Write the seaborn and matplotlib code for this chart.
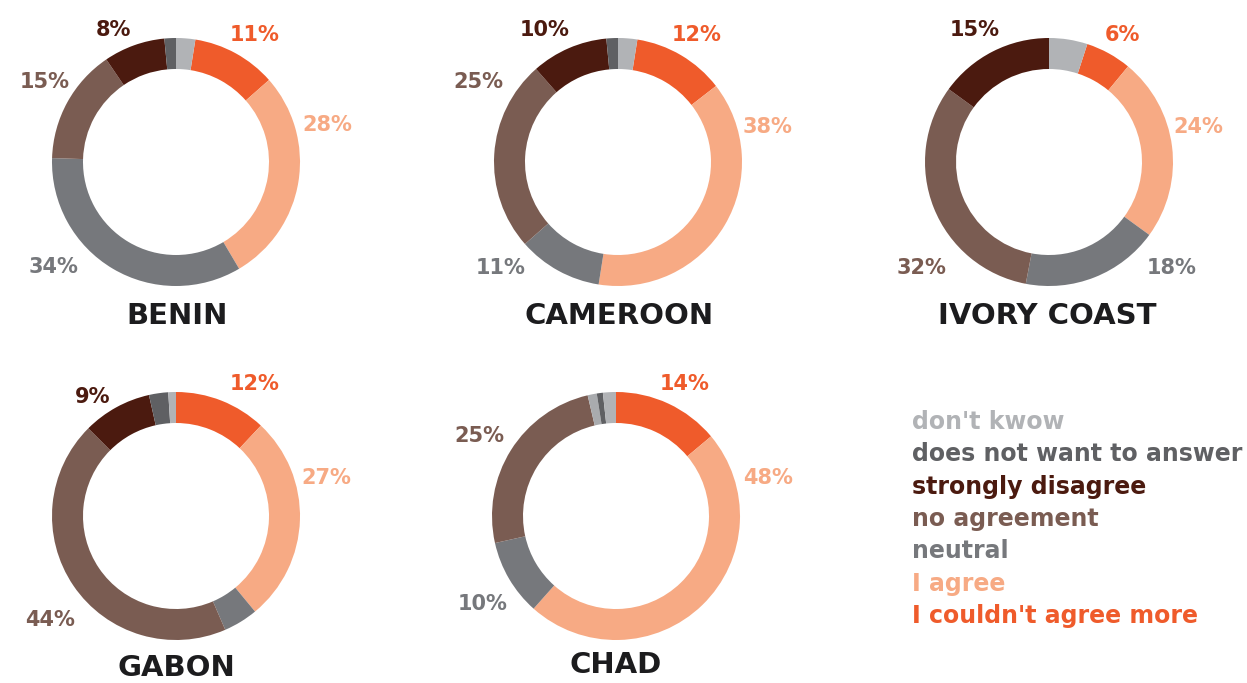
import matplotlib
matplotlib.use("Agg")
import matplotlib.pyplot as plt
import seaborn as sns

sns.set_theme(style="white")
plt.rcParams["font.family"] = ["DejaVu Sans"]

# --- data -----------------------------------------------------------------
categories = ["I couldn't agree more", "I agree", "neutral", "no agreement",
              "unlabeled", "strongly disagree", "does not want to answer", "don't kwow"]
countries = ["BENIN", "CAMEROON", "IVORY COAST", "GABON", "CHAD"]

benin = [11, 28, 34, 15, 0, 8, 1.5, 2.5]
cameroon = [12, 38, 11, 25, 0, 10, 1.5, 2.5]
ivory_coast = [6, 24, 18, 32, 0, 15, 0, 5]
gabon = [12, 27, 4.5, 44, 0, 9, 2.5, 1]
chad = [14, 48, 10, 25, 1.2, 0, 0.8, 1.7]
values = [benin, cameroon, ivory_coast, gabon, chad]

# labels shown next to each ring (category index -> text)
shown = [
    {0: "11%", 1: "28%", 2: "34%", 3: "15%", 5: "8%"},
    {0: "12%", 1: "38%", 2: "11%", 3: "25%", 5: "10%"},
    {0: "6%", 1: "24%", 2: "18%", 3: "32%", 5: "15%"},
    {0: "12%", 1: "27%", 3: "44%", 5: "9%"},
    {0: "14%", 1: "48%", 2: "10%", 3: "25%"},
]

legend_order = ["don't kwow", "does not want to answer", "strongly disagree",
                "no agreement", "neutral", "I agree", "I couldn't agree more"]

# --- layout / style -------------------------------------------------------
colors = {
    "I couldn't agree more": "#ef5b2b",
    "I agree": "#f7aa84",
    "neutral": "#76787c",
    "no agreement": "#7a5c52",
    "unlabeled": "#a9abae",
    "strongly disagree": "#4b1a0f",
    "does not want to answer": "#5f6063",
    "don't kwow": "#b1b3b6",
}
W, H = 1247, 683
centers = [(176, 162), (618, 162), (1049, 162), (176, 516), (616, 516)]
title_pos = [(177, 316), (619, 316), (1047, 316), (176, 668), (616, 665)]
# rings whose "don't know" slice sits just right of 12 o'clock
dk_first = [True, True, True, False, False]
R = 124
label_pos = [
    {0: (255, 35), 1: (327, 125), 2: (53, 267), 3: (45, 82), 5: (113, 30)},
    {0: (697, 35), 1: (768, 127), 2: (501, 268), 3: (478, 82), 5: (545, 30)},
    {0: (1122, 35), 1: (1198, 127), 2: (1172, 268), 3: (922, 268), 5: (975, 30)},
    {0: (255, 384), 1: (326, 478), 3: (50, 620), 5: (93, 397)},
    {0: (685, 384), 1: (768, 478), 2: (483, 604), 3: (479, 436)},
]

fig = plt.figure(figsize=(W / 100, H / 100), dpi=100)
ax = fig.add_axes([0, 0, 1, 1])

for k, country in enumerate(countries):
    cx, cy = centers[k]
    vals = values[k]
    start = 90 - (vals[-1] / sum(vals) * 360 if dk_first[k] else 0)
    ax.pie(vals, colors=[colors[c] for c in categories], center=(cx, H - cy),
           radius=R, startangle=start, counterclock=False,
           wedgeprops=dict(width=R * 0.25, linewidth=0), frame=True)
    for idx, txt in shown[k].items():
        lx, ly = label_pos[k][idx]
        ax.text(lx, H - ly, txt, ha="center", va="center", fontsize=15,
                fontweight="bold", color=colors[categories[idx]])
    tx, ty = title_pos[k]
    ax.text(tx, H - ty, country, ha="center", va="center", fontsize=21,
            fontweight="bold", color="#1c1c1e")

ax.set_xlim(0, W)
ax.set_ylim(0, H)
ax.set_aspect("equal")
ax.axis("off")

for i, name in enumerate(legend_order):
    ax.text(912, H - (422 + i * 32.3), name, ha="left", va="center",
            fontsize=17, fontweight="bold", color=colors[name])

fig.savefig("out.png", dpi=100)
